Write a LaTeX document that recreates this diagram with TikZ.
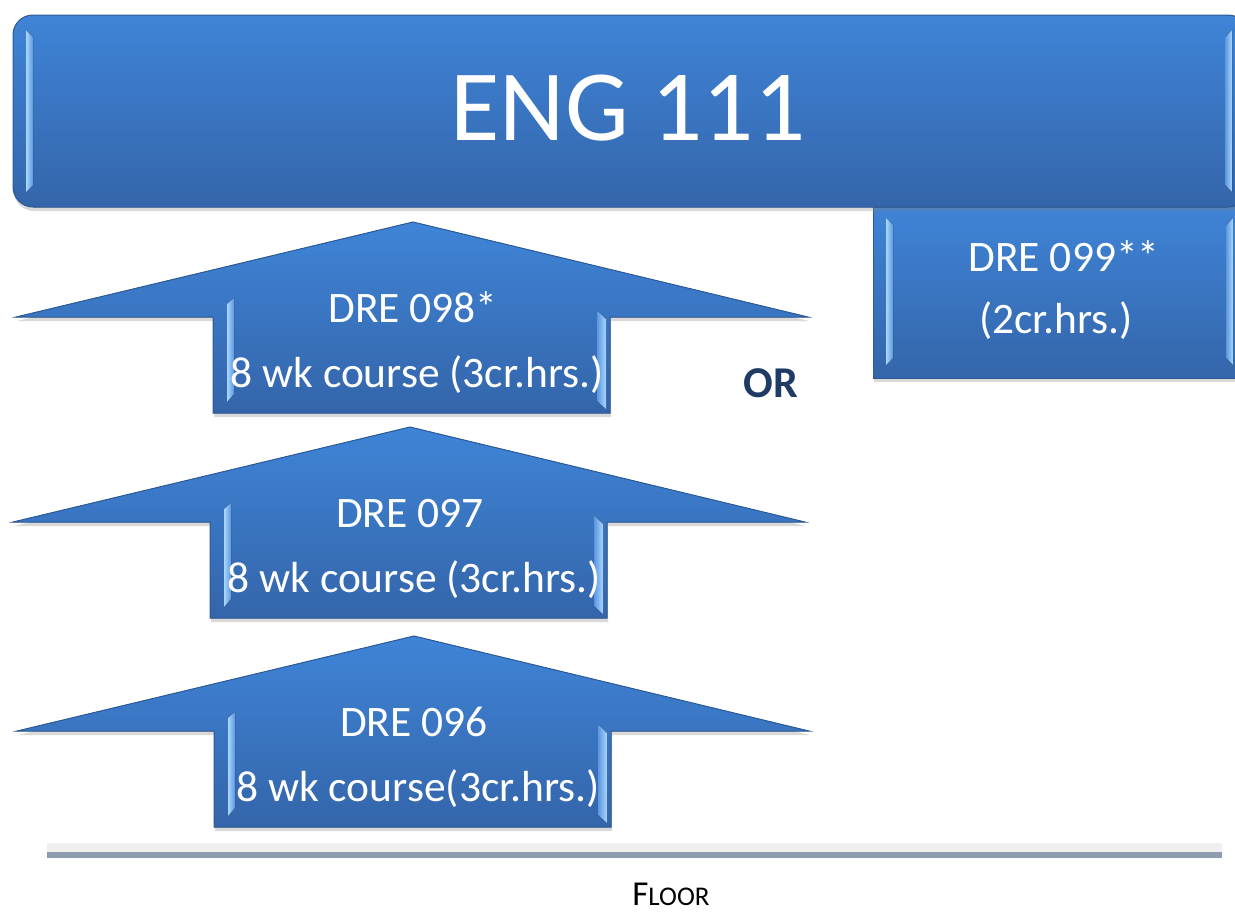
\documentclass[tikz,border=0pt]{standalone}
\usepackage{fontspec}
\setmainfont{Carlito}
\usetikzlibrary{positioning, shadows}
\definecolor{blocktop}{HTML}{3F84D7}
\definecolor{blockbot}{HTML}{3465AA}
\definecolor{blockedge}{HTML}{2C5A96}
\definecolor{bevellight}{HTML}{A8D6FF}
\definecolor{ornavy}{HTML}{1F3A64}
\definecolor{floordark}{HTML}{8E9CAF}
\definecolor{floorlight}{HTML}{EFEFEF}
\tikzset{
  blueblock/.style={top color=blocktop, bottom color=blockbot, draw=blockedge, line width=1pt,
                    drop shadow={shadow xshift=1pt, shadow yshift=-4pt, opacity=0.3}},
  bevelleft/.style={left color=bevellight, right color=blocktop!85!white},
  bevelright/.style={left color=blocktop!85!white, right color=bevellight},
  bigtext/.style={anchor=base, text=white, font=\fontsize{101}{110}\selectfont},
  coursetext/.style={anchor=base, text=white, font=\fontsize{43.5}{50}\selectfont, inner sep=0pt},
  ortext/.style={anchor=base, text=ornavy, font=\fontsize{44}{52}\selectfont\bfseries},
}
\begin{document}
\begin{tikzpicture}[x=1pt, y=-1pt]
  \useasboundingbox (0,0) rectangle (1235,914);
  \clip (0,0) rectangle (1235,914);

  % side box
  \fill[blueblock] (873,205) rectangle (1245,378);
  \fill[bevelleft] (886,218) -- (893,225) -- (893,358) -- (886,365) -- cycle;
  \fill[bevelright] (1226,225) -- (1233,218) -- (1233,365) -- (1226,358) -- cycle;
  \node[coursetext] (dre99) at (1064,271) {DRE 099**};
  \node[coursetext] (dre99h) at (1056,333) {(2cr.hrs.)};

  % top bar
  \fill[blueblock, rounded corners=20pt] (13,15) rectangle (1248,207);
  \fill[bevelleft] (26,30) -- (33,37) -- (33,185) -- (26,192) -- cycle;
  \fill[bevelright] (1225,37) -- (1232,30) -- (1232,192) -- (1225,185) -- cycle;
  \node[bigtext] (eng) at (628,140) {ENG 111};

  % arrows
  \foreach \cx/\ty/\nm/\top/\sub in {413/222/a/{DRE 098*}/{8 wk course (3cr.hrs.)},
                                     410/427/b/{DRE 097}/{8 wk course (3cr.hrs.)},
                                     414/636/c/{DRE 096}/{8 wk course(3cr.hrs.)}} {
    \fill[blueblock] (\cx,\ty) -- (\cx+395,\ty+95) -- (\cx+197,\ty+95) -- (\cx+197,\ty+191)
      -- (\cx-200,\ty+191) -- (\cx-200,\ty+95) -- (\cx-397,\ty+95) -- cycle;
    \fill[bevelleft] (\cx-186,\ty+82) -- (\cx-179,\ty+76) -- (\cx-179,\ty+172) -- (\cx-186,\ty+180) -- cycle;
    \fill[bevelright] (\cx+184,\ty+88) -- (\cx+193,\ty+97) -- (\cx+193,\ty+187) -- (\cx+184,\ty+179) -- cycle;
    \node[coursetext] (dre\nm) at (\cx,\ty+100) {\top};
    \node[coursetext] (wk\nm) at (\cx+4,\ty+165) {\sub};
  }

  \node[ortext] (or) at (771,397) {OR};

  % floor
  \fill[floorlight] (47,843) rectangle (1222,852);
  \fill[floordark] (47,852) rectangle (1222,858);
  \node[anchor=base, inner sep=0pt] (floor) at (671,905)
    {{\fontsize{35}{40}\selectfont F}{\fontsize{27}{32}\selectfont LOOR}};
\end{tikzpicture}
\end{document}
